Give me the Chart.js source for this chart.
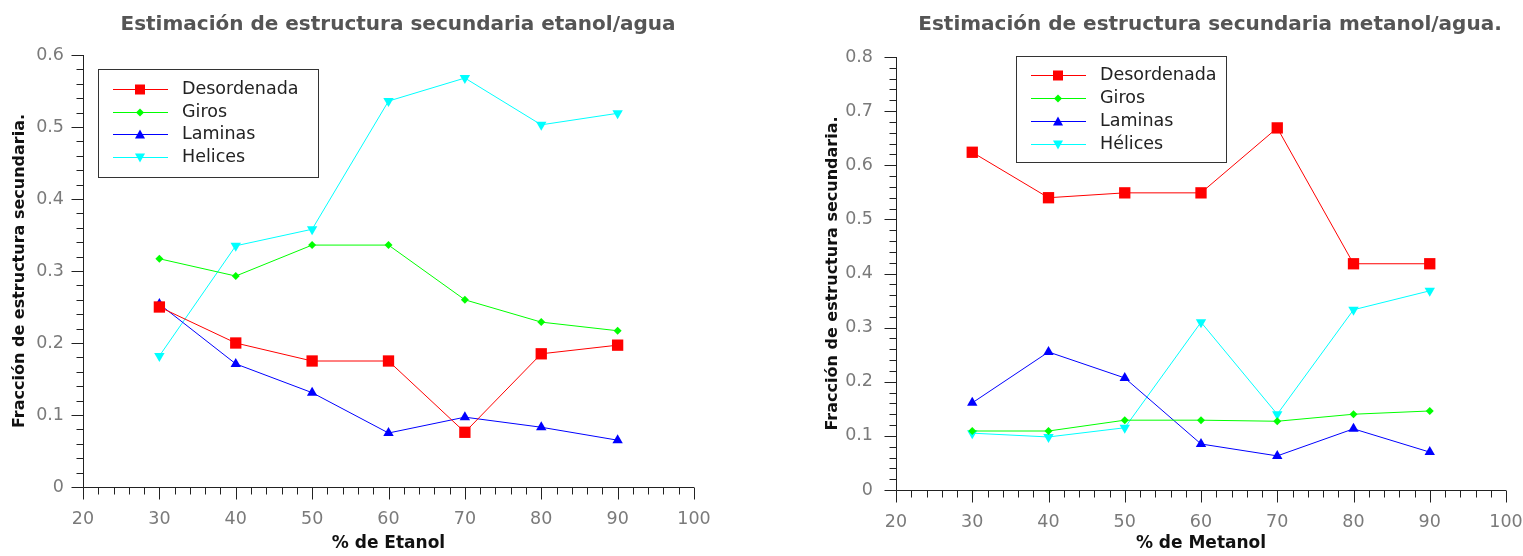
<!DOCTYPE html>
<html>
<head>
<meta charset="utf-8">
<script src="https://cdn.jsdelivr.net/npm/chart.js@4.4.1/dist/chart.umd.min.js"></script>
<style>
body { margin: 0; background: #fff; width: 1523px; height: 556px; overflow: hidden; position: relative; }
canvas { position: absolute; top: 0; }
#etanol { left: 0; }
#metanol { left: 762px; }
</style>
</head>
<body>
<canvas id="etanol" width="762" height="556"></canvas>
<canvas id="metanol" width="761" height="556"></canvas>
<script>
// porcentaje de alcohol
const PERCENTS = [30, 40, 50, 60, 70, 80, 90];
const SERIES_NAMES_ETANOL = ['Desordenada', 'Giros', 'Laminas', 'Helices'];
const SERIES_NAMES_METANOL = ['Desordenada', 'Giros', 'Laminas', 'Hélices'];

const ETANOL_DESORDENADA = [0.250, 0.200, 0.175, 0.175, 0.076, 0.185, 0.197];
const ETANOL_GIROS = [0.317, 0.293, 0.336, 0.336, 0.260, 0.229, 0.217];
const ETANOL_LAMINAS = [0.254, 0.171, 0.131, 0.075, 0.097, 0.083, 0.065];
const ETANOL_HELICES = [0.182, 0.335, 0.358, 0.536, 0.568, 0.503, 0.519];

const METANOL_DESORDENADA = [0.624, 0.540, 0.549, 0.549, 0.669, 0.418, 0.418];
const METANOL_GIROS = [0.109, 0.109, 0.129, 0.129, 0.127, 0.140, 0.146];
const METANOL_LAMINAS = [0.161, 0.255, 0.207, 0.085, 0.063, 0.113, 0.070];
const METANOL_HELICES = [0.105, 0.098, 0.115, 0.310, 0.140, 0.333, 0.368];

const X_TICKS = [20, 30, 40, 50, 60, 70, 80, 90, 100];

const STYLES = [
    { color: '#ff0000', pointStyle: 'rect', radius: 8, rotation: 0 },
    { color: '#00ff00', pointStyle: 'rectRot', radius: 4, rotation: 0 },
    { color: '#0000ff', pointStyle: 'triangle', radius: 6, rotation: 0 },
    { color: '#00ffff', pointStyle: 'triangle', radius: 6, rotation: 180 }
];

const FONT = '"DejaVu Sans", "Open Sans", sans-serif';

const buildDatasets = (names, values) => names.map((name, i) => ({
    label: name,
    data: PERCENTS.map((p, j) => ({ x: p, y: values[i][j] })),
    borderColor: STYLES[i].color,
    backgroundColor: STYLES[i].color,
    borderWidth: 1,
    pointStyle: STYLES[i].pointStyle,
    pointRadius: STYLES[i].radius,
    pointRotation: STYLES[i].rotation,
    pointBorderWidth: 0,
    tension: 0
}));

const drawMarker = (ctx, style, x, y) => {
    ctx.fillStyle = style.color;
    ctx.beginPath();
    if (style.pointStyle === 'rect') {
        ctx.rect(x - 5, y - 5, 10, 10);
    } else if (style.pointStyle === 'rectRot') {
        ctx.moveTo(x, y - 4); ctx.lineTo(x + 4, y); ctx.lineTo(x, y + 4); ctx.lineTo(x - 4, y);
    } else if (style.rotation === 180) {
        ctx.moveTo(x - 5, y - 4); ctx.lineTo(x + 5, y - 4); ctx.lineTo(x, y + 5);
    } else {
        ctx.moveTo(x - 5, y + 4); ctx.lineTo(x + 5, y + 4); ctx.lineTo(x, y - 5);
    }
    ctx.closePath();
    ctx.fill();
};

// ejes con marcas menores, titulo y leyenda dentro del area
const decor = {
    id: 'decor',
    afterDraw(chart, args, opts) {
        const { ctx, chartArea: a, scales: { x, y } } = chart;
        ctx.save();
        ctx.strokeStyle = '#222';
        ctx.lineWidth = 1;
        ctx.beginPath();
        const ax = Math.round(a.left) + 0.5;
        const ay = Math.round(a.bottom) + 0.5;
        ctx.moveTo(ax, a.top);
        ctx.lineTo(ax, ay);
        ctx.lineTo(a.right, ay);
        for (let i = 0; i <= (x.max - x.min) / 2; i++) {
            const v = x.min + i * 2;
            const px = Math.round(x.getPixelForValue(v)) + 0.5;
            const len = v % 10 === 0 ? 12 : 7;
            ctx.moveTo(px, ay);
            ctx.lineTo(px, ay + len);
        }
        const ySteps = Math.round((y.max - y.min) / 0.02);
        for (let i = 0; i <= ySteps; i++) {
            const py = Math.round(y.getPixelForValue(y.min + i * 0.02)) + 0.5;
            const len = i % 5 === 0 ? 12 : 7;
            ctx.moveTo(ax, py);
            ctx.lineTo(ax - len, py);
        }
        ctx.stroke();

        // titulo
        ctx.fillStyle = '#555';
        ctx.font = 'bold 20px ' + FONT;
        ctx.textAlign = 'center';
        ctx.textBaseline = 'middle';
        ctx.fillText(opts.title, opts.titleX, 25);

        // leyenda
        const L = opts.legend;
        ctx.fillStyle = '#fff';
        ctx.fillRect(L.x, L.y, L.w, L.h);
        ctx.strokeStyle = '#333';
        ctx.strokeRect(L.x + 0.5, L.y + 0.5, L.w, L.h);
        ctx.font = '17.5px ' + FONT;
        ctx.textAlign = 'left';
        chart.data.datasets.forEach((ds, i) => {
            const ry = Math.round(L.y + L.row0 + i * L.rowGap) + 0.5;
            ctx.strokeStyle = STYLES[i].color;
            ctx.beginPath();
            ctx.moveTo(L.x + 15, ry);
            ctx.lineTo(L.x + 70, ry);
            ctx.stroke();
            drawMarker(ctx, STYLES[i], L.x + 42, ry);
            ctx.fillStyle = '#222';
            ctx.fillText(ds.label, L.x + 84, ry);
        });
        ctx.restore();
    }
};

const makeChart = (canvasId, cfg) => new Chart(document.getElementById(canvasId), {
    type: 'line',
    data: { datasets: buildDatasets(cfg.names, cfg.values) },
    plugins: [decor],
    options: {
        responsive: false,
        animation: false,
        devicePixelRatio: 1,
        layout: { padding: cfg.padding },
        plugins: {
            legend: { display: false },
            title: { display: false },
            tooltip: { enabled: false },
            decor: { title: cfg.title, titleX: cfg.titleX, legend: cfg.legend }
        },
        scales: {
            x: {
                type: 'linear',
                min: 20,
                max: 100,
                afterBuildTicks: (scale) => { scale.ticks = X_TICKS.map((v) => ({ value: v })); },
                afterFit: (scale) => {
                    scale.height = cfg.xHeight;
                    scale.paddingLeft = 0;
                    scale.paddingRight = 0;
                },
                grid: { display: false, drawTicks: false },
                border: { display: false },
                ticks: { color: '#7a7a7a', padding: 22, maxRotation: 0, font: { family: FONT, size: 17.5 } },
                title: {
                    display: true,
                    text: cfg.xTitle,
                    color: '#111',
                    padding: { top: 0, bottom: 2 },
                    font: { family: FONT, size: 17, weight: 'bold' }
                }
            },
            y: {
                min: 0,
                max: cfg.yMax,
                afterFit: (scale) => {
                    scale.width = 83;
                    scale.paddingTop = 0;
                    scale.paddingBottom = 0;
                },
                grid: { display: false, drawTicks: false },
                border: { display: false },
                ticks: {
                    stepSize: 0.1,
                    color: '#7a7a7a',
                    padding: cfg.yPad,
                    font: { family: FONT, size: 17.5 },
                    callback: (v) => (v === 0 ? '0' : v.toFixed(1))
                },
                title: {
                    display: true,
                    text: 'Fracción de estructura secundaria.',
                    color: '#111',
                    padding: { top: 10, bottom: 0 },
                    font: { family: FONT, size: 16, weight: 'bold' }
                }
            }
        }
    }
});

makeChart('etanol', {
    names: SERIES_NAMES_ETANOL,
    values: [ETANOL_DESORDENADA, ETANOL_GIROS, ETANOL_LAMINAS, ETANOL_HELICES],
    title: 'Estimación de estructura secundaria etanol/agua',
    titleX: 398,
    xTitle: '% de Etanol',
    yMax: 0.6,
    yPad: 19,
    xHeight: 69,
    padding: { left: 0, right: 68, top: 55, bottom: 0 },
    legend: { x: 98, y: 69, w: 220, h: 108, row0: 20, rowGap: 22.7 }
});

makeChart('metanol', {
    names: SERIES_NAMES_METANOL,
    values: [METANOL_DESORDENADA, METANOL_GIROS, METANOL_LAMINAS, METANOL_HELICES],
    title: 'Estimación de estructura secundaria metanol/agua.',
    titleX: 448,
    xTitle: '% de Metanol',
    yMax: 0.8,
    yPad: 23,
    xHeight: 66,
    padding: { left: 51, right: 17, top: 57, bottom: 0 },
    legend: { x: 254, y: 56, w: 210, h: 106, row0: 19, rowGap: 23 }
});
</script>
</body>
</html>
